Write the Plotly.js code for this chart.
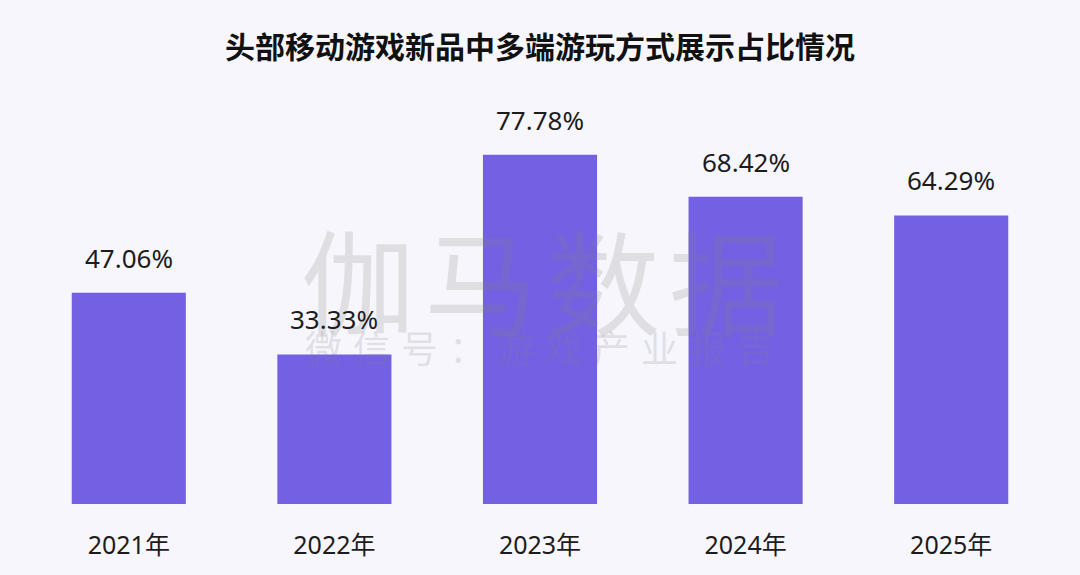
<!DOCTYPE html>
<html>
<head>
<meta charset="utf-8">
<script src="https://cdn.plot.ly/plotly-3.0.1.min.js"></script>
<style>html,body{margin:0;padding:0;background:#f7f6fc;}#chart{width:1080px;height:575px;}</style>
</head>
<body>
<div id="chart"></div>
<script>
const categories = ["2021年", "2022年", "2023年", "2024年", "2025年"];
const values = [47.06, 33.33, 77.78, 68.42, 64.29];
const valueLabels = ["47.06%", "33.33%", "77.78%", "68.42%", "64.29%"];
const titleText = "头部移动游戏新品中多端游玩方式展示占比情况";
const watermarkBig = ["伽", "马", "数", "据"];
const watermarkSmall = ["微", "信", "号", "：", "游", "戏", "产", "业", "报", "告"];

const W = 1080, H = 575;
const annotations = [];
// watermark (drawn first, beneath labels)
watermarkBig.forEach((ch, i) => {
  annotations.push({
    x: (349 + i * 128.7) / W, y: 1 - 252 / H, xref: 'paper', yref: 'paper',
    text: ch, showarrow: false, xanchor: 'center', yanchor: 'middle',
    font: {family: 'Noto Sans CJK SC, sans-serif', size: 114, color: 'rgba(128,128,132,0.2)'}
  });
});
watermarkSmall.forEach((ch, i) => {
  annotations.push({
    x: (313 + i * 50.4) / W, y: 1 - 352 / H, xref: 'paper', yref: 'paper',
    text: ch, showarrow: false, xanchor: 'center', yanchor: 'middle',
    font: {family: 'Noto Sans CJK SC, sans-serif', size: 37, color: 'rgba(128,128,132,0.2)'}
  });
});
// value labels
categories.forEach((c, i) => {
  annotations.push({
    x: c, y: values[i], xref: 'x', yref: 'y',
    text: valueLabels[i], showarrow: false,
    yanchor: 'bottom', yshift: 15,
    font: {family: 'Noto Sans, Noto Sans CJK SC, sans-serif', size: 26, color: '#1c1c1c'}
  });
});

const trace = {
  type: 'bar',
  x: categories,
  y: values,
  marker: {color: '#7360e3'},
  hoverinfo: 'x+y'
};

const layout = {
  width: 1080, height: 575,
  paper_bgcolor: '#f7f6fc', plot_bgcolor: '#f7f6fc',
  margin: {l: 26, r: 26, t: 100, b: 71},
  bargap: 0.445,
  showlegend: false,
  title: {
    text: '<b>' + titleText + '</b>',
    x: 0.5, xanchor: 'center', y: 1 - 47 / H, yanchor: 'middle',
    font: {family: 'Noto Sans CJK SC, sans-serif', size: 30, color: '#111111'}
  },
  xaxis: {
    type: 'category',
    showgrid: false, zeroline: false, showline: false,
    ticks: '', ticklabelstandoff: 24,
    tickfont: {family: 'Noto Sans, Noto Sans CJK SC, sans-serif', size: 25, color: '#1c1c1c'}
  },
  yaxis: {
    range: [0, 90], visible: false, showgrid: false, zeroline: false
  },
  annotations: annotations
};

Plotly.newPlot('chart', [trace], layout, {displayModeBar: false, staticPlot: true});
</script>
</body>
</html>
